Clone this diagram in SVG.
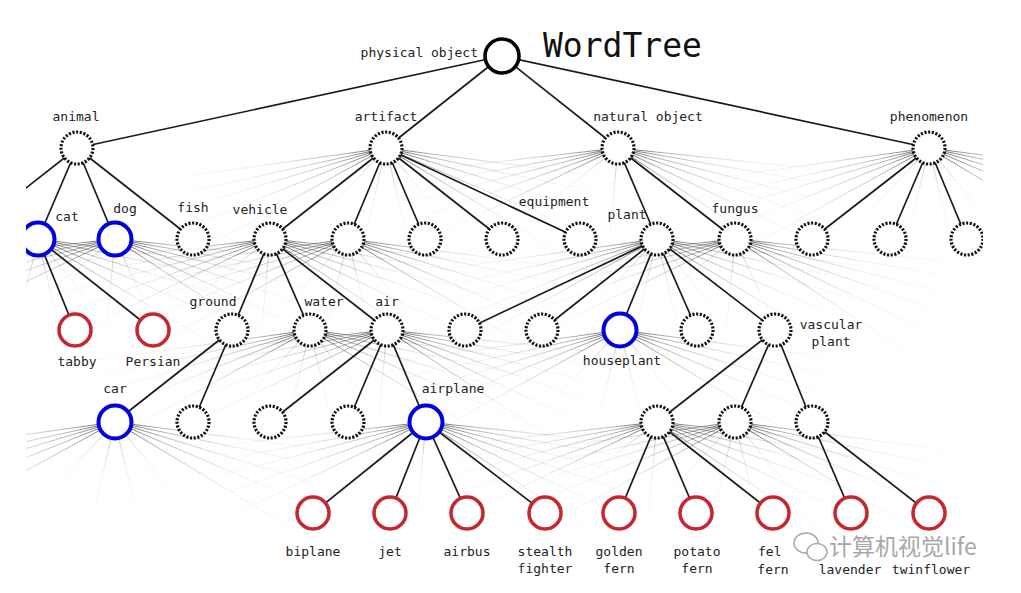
<svg xmlns="http://www.w3.org/2000/svg" xmlns:xlink="http://www.w3.org/1999/xlink" width="1021" height="593" viewBox="0 0 1021 593">
<style>
.d{fill:#fff;stroke:#111;stroke-width:3.2;stroke-dasharray:2.1 1.6}
.b{fill:#fff;stroke:#0000e0;stroke-width:4}
.r{fill:#fff;stroke:#c8262e;stroke-width:3.5}
.k{fill:#fff;stroke:#000;stroke-width:3.6}
.t{font-family:"DejaVu Sans Mono","Liberation Mono",monospace;font-size:13px;fill:#222;text-anchor:middle}
.e line{stroke:#1a1a1a;stroke-width:1.7}
.fan line{stroke:url(#fade);stroke-width:1}
.fan .s{stroke:url(#fadeS)}
</style>
<defs>
<radialGradient id="fade" gradientUnits="userSpaceOnUse" cx="0" cy="0" r="245">
<stop offset="0" stop-color="#000" stop-opacity="0.7"/>
<stop offset="0.2" stop-color="#333" stop-opacity="0.35"/>
<stop offset="0.55" stop-color="#777" stop-opacity="0.12"/>
<stop offset="1" stop-color="#999" stop-opacity="0"/>
</radialGradient>
<radialGradient id="fadeS" gradientUnits="userSpaceOnUse" cx="0" cy="0" r="110">
<stop offset="0" stop-color="#555" stop-opacity="0.5"/>
<stop offset="0.4" stop-color="#888" stop-opacity="0.15"/>
<stop offset="1" stop-color="#aaa" stop-opacity="0"/>
</radialGradient>
<g id="fanA" class="fan">
<line x2="-242" y2="34"/><line x2="-236" y2="52"/><line x2="-228" y2="68"/><line x2="-215" y2="86"/><line x2="-190" y2="104"/>
<line class="s" x2="-75" y2="80"/><line class="s" x2="-25" y2="105"/><line class="s" x2="25" y2="105"/><line class="s" x2="70" y2="85"/>
<line x2="180" y2="108"/><line x2="210" y2="90"/><line x2="228" y2="70"/><line x2="238" y2="50"/><line x2="244" y2="32"/>
</g>
<g id="fanB" class="fan">
<line x2="-245" y2="28"/><line x2="-240" y2="44"/><line x2="-232" y2="60"/><line x2="-220" y2="78"/><line x2="-200" y2="96"/>
<line class="s" x2="-90" y2="70"/><line class="s" x2="-10" y2="106"/><line class="s" x2="45" y2="98"/>
<line x2="170" y2="112"/><line x2="200" y2="96"/><line x2="222" y2="78"/><line x2="234" y2="60"/><line x2="242" y2="42"/><line x2="246" y2="26"/>
</g>
<clipPath id="clip"><rect x="26" y="0" width="957" height="593"/></clipPath>
</defs>
<rect width="1021" height="593" fill="#fff"/>
<g clip-path="url(#clip)">
<g id="fans">
<use href="#fanA" x="386" y="148"/>
<use href="#fanB" x="618" y="148"/>
<use href="#fanA" x="929" y="148"/>
<use href="#fanA" x="38" y="239"/>
<use href="#fanB" x="115" y="239"/>
<use href="#fanB" x="270" y="239"/>
<use href="#fanA" x="348" y="239"/>
<use href="#fanA" x="657" y="239"/>
<use href="#fanB" x="735" y="239"/>
<use href="#fanA" x="310" y="330"/>
<use href="#fanB" x="387" y="330"/>
<use href="#fanA" x="620" y="330"/>
<use href="#fanA" x="115" y="422"/>
<use href="#fanB" x="426" y="422"/>
<use href="#fanB" x="657" y="422"/>
<use href="#fanA" x="735" y="422"/>
</g>
<g id="connectors" class="e">
<line x1="502" y1="56" x2="77" y2="148"/><line x1="502" y1="56" x2="386" y2="148"/><line x1="502" y1="56" x2="618" y2="148"/><line x1="502" y1="56" x2="929" y2="148"/>
<line x1="77" y1="148" x2="-20" y2="224"/><line x1="77" y1="148" x2="38" y2="239"/><line x1="77" y1="148" x2="115" y2="239"/><line x1="77" y1="148" x2="193" y2="239"/>
<line x1="386" y1="148" x2="270" y2="239"/><line x1="386" y1="148" x2="348" y2="239"/><line x1="386" y1="148" x2="425" y2="239"/><line x1="386" y1="148" x2="502" y2="239"/><line x1="386" y1="148" x2="580" y2="239"/>
<line x1="618" y1="148" x2="657" y2="239"/><line x1="618" y1="148" x2="735" y2="239"/>
<line x1="929" y1="148" x2="812" y2="239"/><line x1="929" y1="148" x2="890" y2="239"/><line x1="929" y1="148" x2="967" y2="239"/>
<line x1="38" y1="239" x2="75" y2="330"/><line x1="38" y1="239" x2="153" y2="330"/>
<line x1="270" y1="239" x2="232" y2="330"/><line x1="270" y1="239" x2="310" y2="330"/><line x1="270" y1="239" x2="387" y2="330"/>
<line x1="657" y1="239" x2="465" y2="330"/><line x1="657" y1="239" x2="542" y2="330"/><line x1="657" y1="239" x2="620" y2="330"/><line x1="657" y1="239" x2="697" y2="330"/><line x1="657" y1="239" x2="775" y2="330"/>
<line x1="232" y1="330" x2="115" y2="422"/><line x1="232" y1="330" x2="193" y2="422"/>
<line x1="387" y1="330" x2="270" y2="422"/><line x1="387" y1="330" x2="348" y2="422"/><line x1="387" y1="330" x2="426" y2="422"/>
<line x1="775" y1="330" x2="657" y2="422"/><line x1="775" y1="330" x2="735" y2="422"/><line x1="775" y1="330" x2="812" y2="422"/>
<line x1="426" y1="422" x2="313" y2="513"/><line x1="426" y1="422" x2="390" y2="513"/><line x1="426" y1="422" x2="467" y2="513"/><line x1="426" y1="422" x2="545" y2="513"/>
<line x1="657" y1="422" x2="619" y2="513"/><line x1="657" y1="422" x2="696" y2="513"/><line x1="657" y1="422" x2="773" y2="513"/>
<line x1="812" y1="422" x2="851" y2="513"/><line x1="812" y1="422" x2="929" y2="513"/>
</g>
<g id="n-physical-object"><circle class="k" cx="502" cy="56" r="17"/><text class="t" x="478" y="57" style="text-anchor:end">physical object</text></g>
<g id="n-animal"><circle class="d" cx="77" cy="148" r="16"/><text class="t" x="76" y="121">animal</text></g>
<g id="n-artifact"><circle class="d" cx="386" cy="148" r="16"/><text class="t" x="386" y="121">artifact</text></g>
<g id="n-natural-object"><circle class="d" cx="618" cy="148" r="16"/><text class="t" x="648" y="121">natural object</text></g>
<g id="n-phenomenon"><circle class="d" cx="929" cy="148" r="16"/><text class="t" x="929" y="121">phenomenon</text></g>
<g id="n-cat"><circle class="b" cx="38" cy="239" r="16.5"/><text class="t" x="67" y="221">cat</text></g>
<g id="n-dog"><circle class="b" cx="115" cy="239" r="16.5"/><text class="t" x="125" y="213">dog</text></g>
<g id="n-fish"><circle class="d" cx="193" cy="239" r="16"/><text class="t" x="193" y="212">fish</text></g>
<g id="n-vehicle"><circle class="d" cx="270" cy="239" r="16"/><text class="t" x="260" y="214">vehicle</text></g>
<g id="n-a2"><circle class="d" cx="348" cy="239" r="16"/></g>
<g id="n-a3"><circle class="d" cx="425" cy="239" r="16"/></g>
<g id="n-a4"><circle class="d" cx="502" cy="239" r="16"/></g>
<g id="n-equipment"><circle class="d" cx="580" cy="239" r="16"/><text class="t" x="554" y="206">equipment</text></g>
<g id="n-plant"><circle class="d" cx="657" cy="239" r="16"/><text class="t" x="627" y="219">plant</text></g>
<g id="n-fungus"><circle class="d" cx="735" cy="239" r="16"/><text class="t" x="735" y="213">fungus</text></g>
<g id="n-p1"><circle class="d" cx="812" cy="239" r="16"/></g>
<g id="n-p2"><circle class="d" cx="890" cy="239" r="16"/></g>
<g id="n-p3"><circle class="d" cx="967" cy="239" r="16"/></g>
<g id="n-tabby"><circle class="r" cx="75" cy="330" r="16"/><text class="t" x="77" y="366">tabby</text></g>
<g id="n-persian"><circle class="r" cx="153" cy="330" r="16"/><text class="t" x="153" y="366">Persian</text></g>
<g id="n-ground"><circle class="d" cx="232" cy="330" r="16"/><text class="t" x="213" y="306">ground</text></g>
<g id="n-water"><circle class="d" cx="310" cy="330" r="16"/><text class="t" x="324" y="306">water</text></g>
<g id="n-air"><circle class="d" cx="387" cy="330" r="16"/><text class="t" x="387" y="306">air</text></g>
<g id="n-pl1"><circle class="d" cx="465" cy="330" r="16"/></g>
<g id="n-pl2"><circle class="d" cx="542" cy="330" r="16"/></g>
<g id="n-houseplant"><circle class="b" cx="620" cy="330" r="16.5"/><text class="t" x="622" y="365">houseplant</text></g>
<g id="n-pl4"><circle class="d" cx="697" cy="330" r="16"/></g>
<g id="n-vascular-plant"><circle class="d" cx="775" cy="330" r="16"/><text class="t" x="831" y="329">vascular</text><text class="t" x="831" y="346">plant</text></g>
<g id="n-car"><circle class="b" cx="115" cy="422" r="16.5"/><text class="t" x="115" y="393">car</text></g>
<g id="n-g2"><circle class="d" cx="193" cy="422" r="16"/></g>
<g id="n-air1"><circle class="d" cx="270" cy="422" r="16"/></g>
<g id="n-air2"><circle class="d" cx="348" cy="422" r="16"/></g>
<g id="n-airplane"><circle class="b" cx="426" cy="422" r="16.5"/><text class="t" x="453" y="393">airplane</text></g>
<g id="n-v1"><circle class="d" cx="657" cy="422" r="16"/></g>
<g id="n-v2"><circle class="d" cx="735" cy="422" r="16"/></g>
<g id="n-v3"><circle class="d" cx="812" cy="422" r="16"/></g>
<g id="n-biplane"><circle class="r" cx="313" cy="513" r="16"/><text class="t" x="313" y="556">biplane</text></g>
<g id="n-jet"><circle class="r" cx="390" cy="513" r="16"/><text class="t" x="390" y="556">jet</text></g>
<g id="n-airbus"><circle class="r" cx="467" cy="513" r="16"/><text class="t" x="467" y="556">airbus</text></g>
<g id="n-stealth-fighter"><circle class="r" cx="545" cy="513" r="16"/><text class="t" x="545" y="556">stealth</text><text class="t" x="545" y="573">fighter</text></g>
<g id="n-golden-fern"><circle class="r" cx="619" cy="513" r="16"/><text class="t" x="619" y="556">golden</text><text class="t" x="619" y="573">fern</text></g>
<g id="n-potato-fern"><circle class="r" cx="696" cy="513" r="16"/><text class="t" x="697" y="556">potato</text><text class="t" x="697" y="573">fern</text></g>
<g id="n-felt-fern"><circle class="r" cx="773" cy="513" r="16"/><text class="t" x="758" y="556" style="text-anchor:start">fel</text><text class="t" x="773" y="574">fern</text></g>
<g id="n-lavender"><circle class="r" cx="851" cy="513" r="16"/><text class="t" x="850" y="574">lavender</text></g>
<g id="n-twinflower"><circle class="r" cx="929" cy="513" r="16"/><text class="t" x="931" y="574">twinflower</text></g>
</g>
<text x="543" y="57" style="font-family:'DejaVu Sans Mono','Liberation Mono',monospace;font-size:33px;fill:#111">WordTree</text>
<g id="watermark" opacity="0.85">
<ellipse cx="806" cy="543" rx="12" ry="10" fill="#fff" stroke="#999" stroke-width="1.5"/>
<ellipse cx="817" cy="552" rx="10" ry="8.5" fill="#fff" stroke="#999" stroke-width="1.5"/>
<text x="829" y="555" style="font-family:'Noto Sans CJK SC','Noto Sans',sans-serif;font-size:23px;fill:#9a9a9a;stroke:#fff;stroke-width:1;paint-order:stroke">计算机视觉life</text>
</g>
</svg>
